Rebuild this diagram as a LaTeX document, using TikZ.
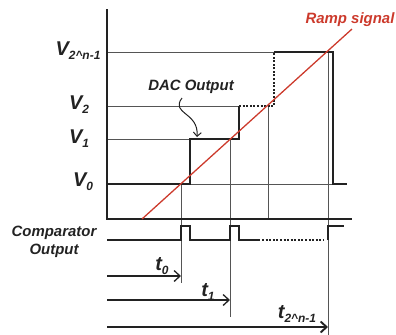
\documentclass[tikz,border=0pt]{standalone}
\usepackage{fontspec}
\setmainfont{Liberation Sans}
\usetikzlibrary{arrows.meta,positioning,calc}
\definecolor{Rojo}{HTML}{CC3A2C}
\definecolor{Trazo}{HTML}{222222}
\definecolor{Guia}{HTML}{555555}
\newcommand{\bajo}[1]{\raisebox{-0.4ex}{\fontsize{12}{12}\selectfont #1}}

\begin{document}
\begin{tikzpicture}[x=1bp,y=-1bp,
        rotulo/.style={font=\bfseries\itshape\fontsize{15}{18}\selectfont,inner sep=0pt,text=Trazo},
        nivel/.style={font=\bfseries\itshape\fontsize{20}{22}\selectfont,inner sep=0pt,text=Trazo},
        guia/.style={draw=Guia,line width=.5pt},
        escalon/.style={draw=Trazo,line width=1.6pt},
        punteado/.style={draw=Trazo,line width=1.5pt,dash pattern=on 2pt off 1.6pt},
        rampa/.style={draw=Rojo,line width=1.3pt},
        flecha/.style={-{Straight Barb[length=6bp,width=11bp]},draw=Trazo,line width=1.3pt}]
        \useasboundingbox (0,0) rectangle (396,335);
        % ejes
        \coordinate (arriba) at (107,9);\coordinate (origen) at (107,219);\coordinate (fin) at (352,219);
        % lineas guia
        \draw[guia] (107,52) -- (274,52);\draw[guia] (107,106) -- (239,106);\draw[guia] (107,139) -- (190,139);\draw[guia] (190,184) -- (333,184);
        \draw[guia] (181,184) -- (181,283);\draw[guia] (230,139) -- (230,317);\draw[guia] (268,106) -- (268,219);\draw[guia] (328,52) -- (328,335);
        \draw[escalon] (arriba) -- (origen) -- (fin);
        % salida del DAC
        \draw[escalon] (107,184) -- (190,184) -- (190,139) -- (239,139) -- (239,106);
        \draw[punteado] (239,106) -- (274,106) -- (274,52);
        \draw[escalon] (274,52) -- (333,52) -- (333,184) -- (347,184);
        % rampa
        \coordinate (r0) at (142,219);\coordinate (r1) at (352,29);
        \draw[rampa] (r0) -- (r1);
        % comparador
        \draw[escalon] (107,240) -- (181,240) -- (181,226) -- (190,226) -- (190,240) -- (230,240) -- (230,226) -- (239,226) -- (239,240) -- (260,240);
        \draw[punteado,line width=1.3pt] (262,240) -- (324,240);
        \draw[escalon] (328,240) -- (328,226) -- (344,226);
        % tiempos
        \coordinate (a0) at (107,276);\coordinate (b0) at (181,276);
        \coordinate (a1) at (107,300);\coordinate (b1) at (230,300);
        \coordinate (an) at (107,327);\coordinate (bn) at (328,327);
        \draw[flecha] (a0) -- (b0);\draw[flecha] (a1) -- (b1);\draw[flecha,line width=1.9pt] (an) -- (bn);
        \node[nivel] (tcero) at (162,266) {t\bajo{0}};
        \node[nivel] (tuno) at (208,292) {t\bajo{1}};
        \node[nivel] (tene) at (297,314) {t\bajo{2\textasciicircum n-1}};
        % niveles
        \node[nivel] (vn) at (78,51) {V\bajo{2\textasciicircum n-1}};
        \node[nivel] (v2) at (79,105) {V\bajo{2}};
        \node[nivel] (v1) at (79,139) {V\bajo{1}};
        \node[nivel] (v0) at (83,182) {V\bajo{0}};
        % rotulos
        \node[rotulo] (dac) at (191,87) {DAC Output};
        \node[rotulo,text=Rojo] (ramp) at (350,20) {Ramp signal};
        \node[rotulo,align=center] (comp) at (54,242) {Comparator\\Output};
        \coordinate (c0) at (182,98);\coordinate (c1) at (197,137);
        \draw[-{Straight Barb[length=4bp,width=8bp]},draw=Trazo,line width=1pt] (c0) .. controls (170,114) and (199,112) .. (c1);
      \end{tikzpicture}
\end{document}
